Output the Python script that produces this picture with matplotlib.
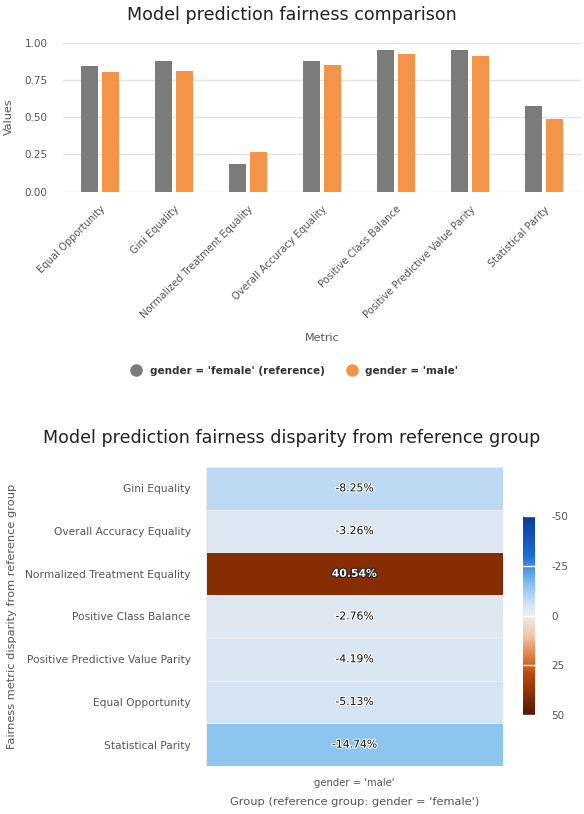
import numpy as np
import matplotlib
matplotlib.use("Agg")
import matplotlib.pyplot as plt
from matplotlib.colors import LinearSegmentedColormap, Normalize
import matplotlib.patheffects as pe

plt.rcParams['font.family'] = ['DejaVu Sans']

# ---------------- data ----------------
metrics = ["Equal Opportunity", "Gini Equality", "Normalized Treatment Equality",
           "Overall Accuracy Equality", "Positive Class Balance",
           "Positive Predictive Value Parity", "Statistical Parity"]
female_vals = [0.845, 0.880, 0.188, 0.876, 0.953, 0.953, 0.574]
male_vals = [0.802, 0.807, 0.264, 0.847, 0.927, 0.913, 0.489]
series_labels = ["gender = 'female' (reference)", "gender = 'male'"]

heat_metrics = ["Gini Equality", "Overall Accuracy Equality", "Normalized Treatment Equality",
                "Positive Class Balance", "Positive Predictive Value Parity",
                "Equal Opportunity", "Statistical Parity"]
heat_vals = [-8.25, -3.26, 40.54, -2.76, -4.19, -5.13, -14.74]
heat_group = ["gender = 'male'"]
cbar_ticks = [-50, -25, 0, 25, 50]
y_ticks = [0.0, 0.25, 0.5, 0.75, 1.0]

GRAY = "#7b7b7b"
ORANGE = "#f39449"
TXT = "#555555"

W, H = 584, 814
fig = plt.figure(figsize=(W / 100, H / 100), dpi=100)

def fx(px):
    return px / W

def fy(py):
    return 1 - py / H

# ---------------- bar chart ----------------
ax = fig.add_axes([fx(63), fy(191.7), fx(581 - 63), (191.7 - 42.7) / H])
x = np.arange(len(metrics))
bw = 0.23
ax.bar(x - 0.145, female_vals, bw, color=GRAY, zorder=3)
ax.bar(x + 0.145, male_vals, bw, color=ORANGE, zorder=3)
ax.set_xlim(-0.5, len(metrics) - 0.5)
ax.set_ylim(0, 1.0)
ax.set_yticks(y_ticks)
ax.set_yticklabels([f"{v:.2f}" for v in y_ticks])
ax.yaxis.grid(True, color="#e4e4e4", linewidth=1, zorder=0)
ax.set_axisbelow(True)
for s in ax.spines.values():
    s.set_visible(False)
ax.tick_params(axis='y', length=0, pad=11, labelsize=7.5, labelcolor=TXT)
ax.set_xticks(x)
ax.set_xticklabels(metrics, rotation=45, ha='right', rotation_mode='anchor',
                   fontsize=7.2, color=TXT)
ax.tick_params(axis='x', length=0, pad=9)
ax.set_ylabel("Values", fontsize=8, color=TXT, labelpad=8)
fig.text(0.5, fy(15), "Model prediction fairness comparison", ha='center', va='center',
         fontsize=12.6, color="#222222")
fig.text(fx(322), fy(338), "Metric", ha='center', va='center', fontsize=8, color=TXT)

# legend
handles = [plt.Line2D([], [], marker='o', linestyle='none', markersize=8, color=c)
           for c in (GRAY, ORANGE)]
fig.legend(handles, series_labels, loc='center', bbox_to_anchor=(0.5, fy(371)), ncol=2,
           frameon=False, prop={'weight': 'bold', 'size': 7.5}, handletextpad=0.3,
           columnspacing=1.6, labelcolor="#333333")

# ---------------- heatmap ----------------
cmap = LinearSegmentedColormap.from_list("fair", [
    (0.0, "#0a3a96"), (0.2, "#1a6fd6"), (0.35, "#8cc4ef"), (0.45, "#d6e5f3"),
    (0.5, "#ececec"), (0.6, "#f0c8a8"), (0.72, "#de7436"), (0.8, "#b5480f"),
    (0.9, "#8a2e03"), (1.0, "#531805")])
norm = Normalize(-50, 50)

hx = fig.add_axes([fx(206), fy(766), fx(503 - 206), (766 - 467) / H])
data = np.array(heat_vals).reshape(-1, 1)
mesh = hx.pcolormesh(data, cmap=cmap, norm=norm, edgecolors="#ececec", linewidth=0.4)
hx.set_ylim(len(heat_vals), 0)
hx.set_xlim(0, 1)
for s in hx.spines.values():
    s.set_visible(False)
hx.set_yticks(np.arange(len(heat_metrics)) + 0.5)
hx.set_yticklabels(heat_metrics, fontsize=7.7, color=TXT)
hx.set_xticks([0.5])
hx.set_xticklabels(heat_group, fontsize=7.2, color=TXT)
hx.tick_params(axis='y', length=0, pad=11)
hx.tick_params(axis='x', length=0, pad=9)
hx.set_xlabel("Group (reference group: gender = 'female')", fontsize=8.2, color=TXT,
              labelpad=6)
for i, v in enumerate(heat_vals):
    dark = abs(v) > 30
    hx.text(0.5, i + 0.5, f"{v:.2f}%", ha='center', va='center', fontsize=7.8,
            color='white' if dark else '#111111',
            weight='bold' if dark else 'normal',
            path_effects=[pe.withStroke(linewidth=1.5,
                                        foreground='#222222' if dark else 'white')])

fig.text(fx(12), fy(616), "Fairness metric disparity from reference group", rotation=90,
         ha='center', va='center', fontsize=8.2, color=TXT)
fig.text(0.5, fy(438), "Model prediction fairness disparity from reference group",
         ha='center', va='center', fontsize=12.6, color="#222222")

cax = fig.add_axes([fx(523), fy(715), fx(12), (715 - 516) / H])
cb = fig.colorbar(mesh, cax=cax, ticks=cbar_ticks)
cb.outline.set_visible(False)
cax.invert_yaxis()
cax.set_yticklabels([str(t) for t in cbar_ticks])
cax.tick_params(direction='in', length=8.6, width=1, color='white', pad=12,
                labelsize=7.5, labelcolor=TXT)

fig.savefig("out.png", dpi=100)
